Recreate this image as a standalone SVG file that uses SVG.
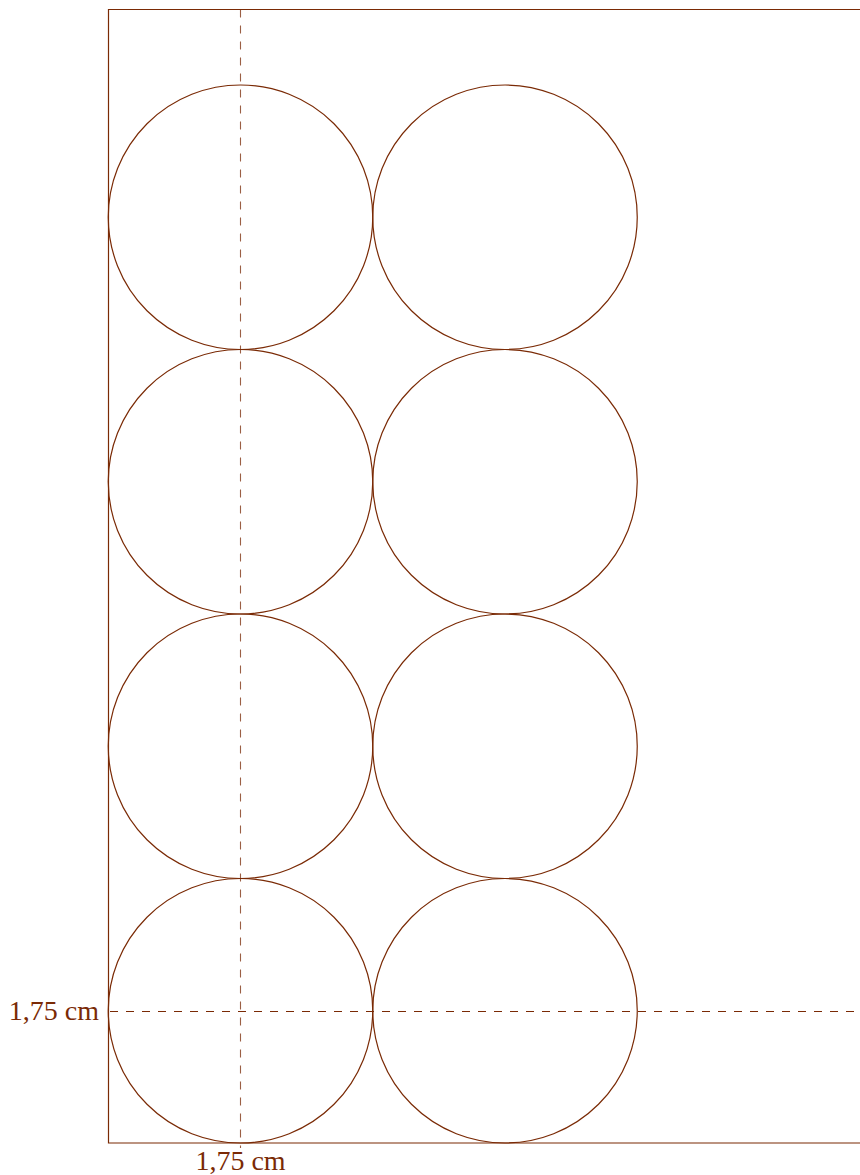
<svg xmlns="http://www.w3.org/2000/svg" width="860" height="1175" viewBox="0 0 860 1175">
<style>
.s{fill:none;stroke:#7a2a05;stroke-width:1.2}
.d{fill:none;stroke:#7a2a05;stroke-width:1.1;stroke-dasharray:8 8}
.t{font-family:"Liberation Serif",serif;font-size:28px;fill:#7a2a05}
</style>
<rect width="860" height="1175" fill="#fff"/>
<g id="frame"><path class="s" d="M860,9.5 H108.5 V1143 H860"/></g>
<g id="circles">
<circle class="s" cx="240.5" cy="217.25" r="132.25"/>
<circle class="s" cx="505" cy="217.25" r="132.25"/>
<circle class="s" cx="240.5" cy="481.75" r="132.25"/>
<circle class="s" cx="505" cy="481.75" r="132.25"/>
<circle class="s" cx="240.5" cy="746.25" r="132.25"/>
<circle class="s" cx="505" cy="746.25" r="132.25"/>
<circle class="s" cx="240.5" cy="1010.75" r="132.25"/>
<circle class="s" cx="505" cy="1010.75" r="132.25"/>
</g>
<g id="connectors">
<line class="d" x1="240.5" y1="9.5" x2="240.5" y2="1148" opacity="0.75"/>
<line class="d" x1="110" y1="1011.5" x2="860" y2="1011.5"/>
</g>
<g id="labels">
<text class="t" x="99" y="1020" text-anchor="end">1,75 cm</text>
<text class="t" x="240.5" y="1170" text-anchor="middle">1,75 cm</text>
</g>
</svg>
